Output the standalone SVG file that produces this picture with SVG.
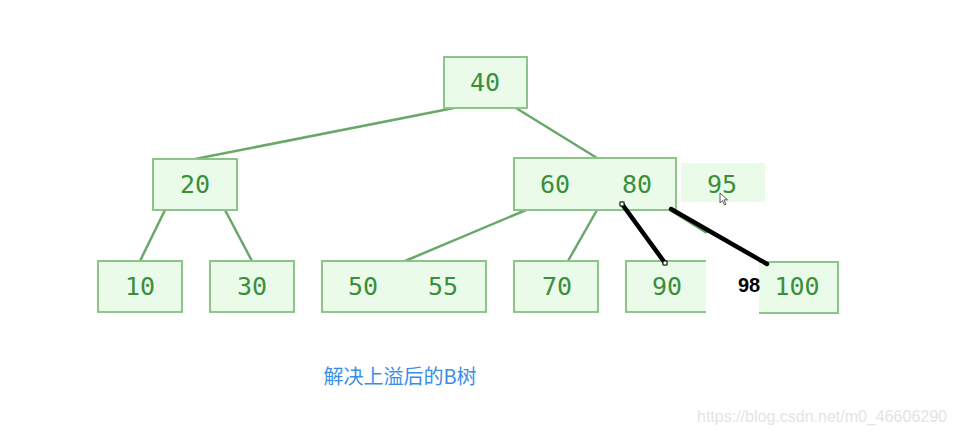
<svg xmlns="http://www.w3.org/2000/svg" width="955" height="436" viewBox="0 0 955 436">
<style>
.box{fill:#eafbea;stroke:#8cc48c;stroke-width:2}
.num{font-family:"DejaVu Sans Mono","Liberation Mono",monospace;font-size:25px;fill:#3b8f3b;text-anchor:middle}
.edge{stroke:#6aa86a;stroke-width:2.5;fill:none}
.blk{stroke:#000;stroke-width:4.5;stroke-linecap:round}
.handle{fill:#fff;stroke:#000;stroke-width:1}
</style>
<rect width="955" height="436" fill="#fff"/>
<g id="connectors">
<line class="edge" x1="454" y1="108" x2="195" y2="159"/>
<line class="edge" x1="516" y1="108" x2="597" y2="158"/>
<line class="edge" x1="165" y1="210" x2="140" y2="261"/>
<line class="edge" x1="225" y1="210" x2="252" y2="261"/>
<line class="edge" x1="526" y1="210" x2="405" y2="261"/>
<line class="edge" x1="597" y1="210" x2="568" y2="261"/>
<line class="edge" x1="670" y1="210" x2="710" y2="235"/>
</g>
<g id="n40"><rect class="box" x="444" y="57" width="83" height="51"/><text class="num" x="485" y="91">40</text></g>
<g id="n20"><rect class="box" x="153" y="159" width="84" height="51"/><text class="num" x="195" y="193">20</text></g>
<g id="n6080"><rect class="box" x="514" y="158" width="162" height="52"/><text class="num" x="555" y="193">60</text><text class="num" x="637" y="193">80</text></g>
<g id="n95"><rect x="681" y="163" width="84" height="39" fill="#eafbea"/><text class="num" x="722" y="193">95</text></g>
<g id="n10"><rect class="box" x="98" y="261" width="84" height="51"/><text class="num" x="140" y="295">10</text></g>
<g id="n30"><rect class="box" x="210" y="261" width="84" height="51"/><text class="num" x="252" y="295">30</text></g>
<g id="n5055"><rect class="box" x="322" y="261" width="164" height="51"/><text class="num" x="363" y="295">50</text><text class="num" x="443" y="295">55</text></g>
<g id="n70"><rect class="box" x="514" y="261" width="84" height="51"/><text class="num" x="557" y="295">70</text></g>
<g id="n90"><rect class="box" x="626" y="261" width="84" height="51"/><text class="num" x="667" y="295">90</text></g>
<g id="n100"><rect class="box" x="755" y="262" width="83" height="51"/><text class="num" x="797" y="295">100</text></g>
<rect x="706" y="233" width="53" height="90" fill="#fff"/>
<text x="749" y="292" font-family="Liberation Sans,Arial,sans-serif" font-weight="bold" font-size="20" text-anchor="middle" fill="#000">98</text>
<g id="black-connectors">
<line class="blk" x1="622" y1="204" x2="665" y2="263"/>
<line class="blk" x1="671" y1="209" x2="767" y2="264"/>
<rect class="handle" x="620" y="202" width="4" height="4"/>
<rect class="handle" x="663" y="261" width="4" height="4"/>
</g>
<path d="M720 193 L720 203 L722.5 200.5 L724.5 205 L726 204.3 L724 199.8 L727.5 199.8 Z" fill="#fff" stroke="#333" stroke-width="0.8"/>
<text x="400" y="384" font-family="Noto Sans CJK SC,Liberation Sans,sans-serif" font-size="20" text-anchor="middle" fill="#3a8ee6">解决上溢后的B树</text>
<text x="822" y="422" font-family="Liberation Sans,Arial,sans-serif" font-size="16" text-anchor="middle" fill="#e4e4e4">https://blog.csdn.net/m0_46606290</text>
</svg>
